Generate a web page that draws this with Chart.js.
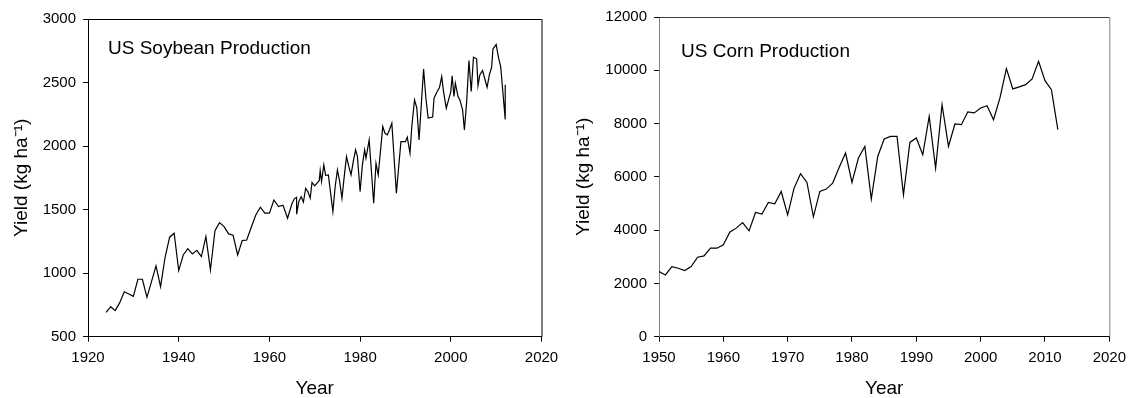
<!DOCTYPE html>
<html>
<head>
<meta charset="utf-8">
<script src="https://cdn.jsdelivr.net/npm/chart.js@4"></script>
<style>
body{margin:0;background:#fff;width:1133px;height:398px;overflow:hidden;position:relative}
.box{position:absolute;top:0;height:398px}
</style>
</head>
<body>
<div class="box" style="left:0;width:566px"><canvas id="soy"></canvas></div>
<div class="box" style="left:566px;width:567px"><canvas id="corn"></canvas></div>
<script>
//data
const soyYears = [
  1924, 1925, 1926, 1927, 1928, 1929, 1930, 1931, 1932, 1933, 1934, 1935, 1936, 1937, 1938, 1939,
  1940, 1941, 1942, 1943, 1944, 1945, 1946, 1947, 1948, 1949, 1950, 1951, 1952, 1953, 1954, 1955,
  1956, 1957, 1958, 1959, 1960, 1961, 1962, 1963, 1964, 1965, 1965.5, 1966, 1966, 1966.5, 1967, 1967.5,
  1968, 1968.5, 1969, 1969.4, 1970, 1970.5, 1971, 1971.2, 1971.5, 1972, 1972.4, 1973, 1974, 1974.5,
  1975, 1975.5, 1976, 1976.5, 1977, 1977.5, 1978, 1978.5, 1979, 1979.4, 1980, 1980.5, 1981, 1981.3,
  1982, 1983, 1983.5, 1984, 1985, 1985.5, 1986, 1986.5, 1987, 1988, 1989, 1990, 1990.4, 1991,
  1991.4, 1992, 1992.5, 1993, 1994, 1994.5, 1995, 1996, 1996.3, 1997, 1997.5, 1998, 1998.4, 1999,
  2000, 2000.3, 2000.7, 2001, 2001.6, 2002, 2002.6, 2003, 2003.5, 2004, 2004.5, 2005, 2005.7, 2006,
  2006.4, 2007, 2008, 2008.5, 2009, 2009.3, 2010, 2010.5, 2011, 2012, 2012,
];
const soyYield = [
  692, 736, 705, 768, 854, 836, 818, 952, 952, 810, 933, 1057, 894, 1125, 1283, 1314,
  1020, 1143, 1193, 1151, 1180, 1130, 1287, 1025, 1335, 1398, 1366, 1309, 1298, 1143, 1256, 1261,
  1361, 1458, 1519, 1472, 1472, 1576, 1524, 1535, 1432, 1550, 1585, 1597, 1464, 1565, 1602, 1560,
  1668, 1640, 1590, 1713, 1687, 1708, 1730, 1807, 1720, 1852, 1770, 1773, 1484, 1680,
  1812, 1720, 1590, 1760, 1917, 1840, 1773, 1880, 1970, 1920, 1642, 1850, 1970, 1905,
  2049, 1550, 1865, 1773, 2154, 2100, 2088, 2130, 2180, 1629, 2035, 2035, 2070, 1944,
  2154, 2363, 2300, 2049, 2606, 2380, 2220, 2228, 2377, 2429, 2460, 2547, 2429, 2298,
  2429, 2553, 2390, 2495, 2390, 2363, 2285, 2127, 2350, 2673, 2429, 2700, 2687, 2477,
  2560, 2594, 2463, 2560, 2620, 2764, 2799, 2700, 2626, 2210, 2482,
];
const cornYears = [
  1950, 1951, 1952, 1953, 1954, 1955, 1956, 1957, 1958, 1959, 1960, 1961, 1962, 1963, 1964, 1965,
  1966, 1967, 1968, 1969, 1970, 1971, 1972, 1973, 1974, 1975, 1976, 1977, 1978, 1979, 1980, 1981,
  1982, 1983, 1984, 1985, 1986, 1987, 1988, 1989, 1990, 1991, 1992, 1993, 1994, 1995, 1996, 1997,
  1998, 1999, 2000, 2001, 2002, 2003, 2004, 2005, 2006, 2007, 2008, 2009, 2010, 2011, 2012,
];
const cornYield = [
  2443, 2319, 2631, 2571, 2481, 2631, 2985, 3034, 3323, 3323, 3447, 3924, 4075, 4285, 3973, 4661,
  4601, 5037, 4988, 5451, 4575, 5578, 6116, 5789, 4500, 5451, 5541, 5766, 6350, 6894, 5789, 6706,
  7142, 5165, 6766, 7420, 7518, 7518, 5327, 7293, 7458, 6830, 8270, 6330, 8710, 7142, 7984, 7958,
  8435, 8398, 8586, 8672, 8146, 8961, 10063, 9300, 9375, 9462, 9676, 10338, 9612, 9274, 7770,
];
const soyXTicks = [1920, 1940, 1960, 1980, 2000, 2020];
const soyYTicks = [500, 1000, 1500, 2000, 2500, 3000];
const cornXTicks = [1950, 1960, 1970, 1980, 1990, 2000, 2010, 2020];
const cornYTicks = [0, 2000, 4000, 6000, 8000, 10000, 12000];

const FONT = "'Liberation Sans', Arial, sans-serif";

//frame on top/right + label inside the plot
const framePlugin = {
  id: "frame",
  afterDraw(chart, args, o) {
    const { ctx, chartArea: a } = chart;
    ctx.save();
    ctx.lineWidth = 1;
    ctx.strokeStyle = o.topColor;
    ctx.beginPath();
    ctx.moveTo(a.left, a.top + 0.5);
    ctx.lineTo(a.right, a.top + 0.5);
    ctx.stroke();
    ctx.strokeStyle = o.rightColor;
    ctx.beginPath();
    ctx.moveTo(a.right + 0.5, a.top);
    ctx.lineTo(a.right + 0.5, a.bottom);
    ctx.stroke();
    ctx.fillStyle = "#000";
    ctx.font = "19px " + FONT;
    ctx.textBaseline = "alphabetic";
    ctx.fillText(o.text, a.left + o.dx, a.top + o.dy);
    ctx.restore();
  },
};

function makeChart(id, xs, ys, xTicks, yTicks, o) {
  const pts = xs.map((x, i) => ({ x: x, y: ys[i] }));
  const tickFont = { family: FONT, size: 15 };
  new Chart(document.getElementById(id).getContext("2d"), {
    type: "scatter",
    data: {
      datasets: [
        {
          data: pts,
          showLine: true,
          borderColor: "#000",
          borderWidth: 1.2,
          pointRadius: 0,
          tension: 0,
        },
      ],
    },
    options: {
      responsive: true,
      maintainAspectRatio: false,
      animation: false,
      layout: { padding: o.padding },
      plugins: {
        legend: { display: false },
        tooltip: { enabled: false },
        frame: { text: o.text, dx: o.dx, dy: o.dy, topColor: o.topColor, rightColor: o.rightColor },
      },
      scales: {
        x: {
          type: "linear",
          min: xTicks[0],
          max: xTicks[xTicks.length - 1],
          afterBuildTicks: (s) => { s.ticks = xTicks.map((v) => ({ value: v })); },
          afterFit: (s) => { s.height = 61.3; },
          grid: { drawOnChartArea: false, drawTicks: true, tickLength: 5, color: "#000" },
          border: { display: true, color: o.bottomColor, width: 1 },
          ticks: { color: "#000", font: tickFont, padding: 7, maxRotation: 0, callback: (v) => String(v) },
          title: {
            display: true, text: "Year", color: "#000",
            font: { family: FONT, size: 19, lineHeight: 1 }, padding: { top: 0, bottom: 0 },
          },
        },
        y: {
          min: yTicks[0],
          max: yTicks[yTicks.length - 1],
          afterBuildTicks: (s) => { s.ticks = yTicks.map((v) => ({ value: v })); },
          afterFit: (s) => { s.width = o.yWidth; },
          grid: { drawOnChartArea: false, drawTicks: true, tickLength: 5, color: "#000" },
          border: { display: true, color: o.leftColor, width: 1 },
          ticks: { color: "#000", font: tickFont, padding: 7, callback: (v) => String(v) },
          title: {
            display: true, text: "Yield (kg ha\u207B\u00B9)", color: "#000",
            font: { family: FONT, size: 19, lineHeight: 1 }, padding: { top: o.yTitlePad, bottom: 0 },
          },
        },
      },
    },
    plugins: [framePlugin],
  });
}

makeChart("soy", soyYears, soyYield, soyXTicks, soyYTicks, {
  padding: { top: 19, right: 24.5, left: 0, bottom: 0 },
  yWidth: 88,
  yTitlePad: 12,
  text: "US Soybean Production",
  dx: 20,
  dy: 35,
  topColor: "#000",
  rightColor: "#000",
  leftColor: "#000",
  bottomColor: "#000",
});

makeChart("corn", cornYears, cornYield, cornXTicks, cornYTicks, {
  padding: { top: 17, right: 19, left: 0, bottom: 0 },
  yWidth: 93,
  yTitlePad: 8,
  text: "US Corn Production",
  dx: 22,
  dy: 40,
  topColor: "#404040",
  rightColor: "#808080",
  leftColor: "#808080",
  bottomColor: "#000",
});
</script>
</body>
</html>
